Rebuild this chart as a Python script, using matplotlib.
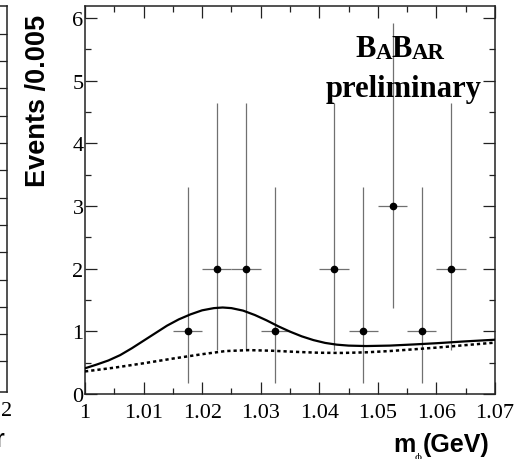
import numpy as np
import matplotlib
matplotlib.use("Agg")
import matplotlib.pyplot as plt
from matplotlib.ticker import MultipleLocator

plt.rcParams['font.family'] = 'Liberation Serif'

# binned data (bin width 0.005 GeV), empty bins not drawn
bin_centers = [1.0175, 1.0225, 1.0275, 1.0325, 1.0425, 1.0475, 1.0525, 1.0575, 1.0625]
counts = [1, 2, 2, 1, 2, 1, 3, 1, 2]
err_low = [0.827, 1.292, 1.292, 0.827, 1.292, 0.827, 1.633, 0.827, 1.292]
err_high = [2.30, 2.64, 2.64, 2.30, 2.64, 2.30, 2.92, 2.30, 2.64]
half_bin = 0.0025

# total fit (solid)
fit_x = [1.000, 1.002, 1.004, 1.006, 1.008, 1.010, 1.012, 1.014, 1.016, 1.018,
         1.020, 1.022, 1.0235, 1.025, 1.027, 1.029, 1.031, 1.033, 1.035, 1.037,
         1.039, 1.041, 1.043, 1.045, 1.048, 1.052, 1.056, 1.060, 1.065, 1.070]
fit_y = [0.41, 0.47, 0.535, 0.62, 0.73, 0.85, 0.97, 1.09, 1.19, 1.27,
         1.335, 1.37, 1.38, 1.37, 1.33, 1.26, 1.175, 1.08, 0.995, 0.92,
         0.86, 0.815, 0.787, 0.772, 0.765, 0.772, 0.79, 0.81, 0.84, 0.866]

# background component (dotted)
bkg_x = [1.000, 1.005, 1.010, 1.015, 1.020, 1.024, 1.028, 1.032, 1.036,
         1.040, 1.044, 1.048, 1.052, 1.056, 1.060, 1.065, 1.070]
bkg_y = [0.36, 0.42, 0.49, 0.565, 0.635, 0.685, 0.70, 0.69, 0.672,
         0.658, 0.655, 0.665, 0.685, 0.712, 0.74, 0.78, 0.82]

W, H = 516, 460
fig = plt.figure(figsize=(W / 100, H / 100), dpi=100)

# main panel
ax = fig.add_axes([85 / W, 1 - 395 / H, 410 / W, 388 / H])
ax.errorbar(bin_centers, counts, xerr=half_bin, yerr=[err_low, err_high],
            fmt='none', ecolor='#707070', elinewidth=0.9, capsize=0, zorder=2)
ax.plot(bin_centers, counts, 'o', color='black', markersize=4.5, zorder=4)
ax.plot(fit_x, fit_y, '-', color='black', lw=1.6, zorder=3)
ax.plot(bkg_x, bkg_y, color='black', lw=1.8, linestyle=(0, (1.3, 1.2)), zorder=3)

ax.set_xlim(1.0, 1.07)
ax.set_ylim(0, 6.19)
ax.xaxis.set_major_locator(MultipleLocator(0.01))
ax.xaxis.set_minor_locator(MultipleLocator(0.005))
ax.yaxis.set_major_locator(MultipleLocator(1))
ax.yaxis.set_minor_locator(MultipleLocator(0.5))
ax.set_xticks([1.0, 1.01, 1.02, 1.03, 1.04, 1.05, 1.06, 1.07])
ax.set_xticklabels(['1', '1.01', '1.02', '1.03', '1.04', '1.05', '1.06', '1.07'])
ax.tick_params(which='both', direction='in', top=True, right=True,
               labelsize=16, color='#222222')
ax.tick_params(which='major', length=8.5, width=0.9)
ax.tick_params(which='minor', length=4.3, width=0.9)
ax.tick_params(axis='y', pad=1)
ax.tick_params(axis='x', pad=6.5)
for s in ax.spines.values():
    s.set_linewidth(1.1)
    s.set_color('#222222')

# BaBar label in small caps
t1 = ax.text((355 - 85) / 410, (395 - 56.7) / 388, 'B', transform=ax.transAxes,
             fontsize=22, fontweight='bold', va='baseline', ha='left')
t2 = ax.annotate('A', xy=(1, 0), xycoords=t1, fontsize=16.5, fontweight='bold', va='bottom')
t3 = ax.annotate('B', xy=(1, 0), xycoords=t2, fontsize=22, fontweight='bold', va='bottom')
t4 = ax.annotate('AR', xy=(1, 0), xycoords=t3, fontsize=16.5, fontweight='bold', va='bottom')
ax.text((404 - 85) / 410, (395 - 96.7) / 388, 'preliminary', transform=ax.transAxes,
        fontsize=22, fontweight='bold', va='baseline', ha='center')

# axis labels
fig.text(38.5 / W, 1 - 101 / H, 'Events /0.005', rotation=90, ha='center', va='center',
         fontsize=19.5, fontweight='bold', family='Liberation Sans')
fig.text(393 / W, 1 - 452 / H, 'm', ha='left', va='baseline',
         fontsize=18, fontweight='bold', family='Liberation Sans')
fig.text(414.5 / W, 1 - 457.5 / H, 'ϕ', ha='left', va='center', fontsize=7.5,
         family='DejaVu Serif')
fig.text(422.5 / W, 1 - 452 / H, '(GeV)', ha='left', va='baseline',
         fontsize=18, fontweight='bold', family='Liberation Sans')

# neighbouring panel, cut by the left edge of the picture
lp_ticks = [1.12 + k for k in range(13)]
axl = fig.add_axes([-0.3, 1 - 393 / H, 0.3 + 7 / W, 386 / H])
axl.set_xlim(0, 2)
axl.set_ylim(0, 14.14)
axl.set_xticks([2])
axl.set_xticklabels(['2'])
axl.set_yticks(lp_ticks)
axl.tick_params(axis='y', left=False, right=True, labelleft=False,
                direction='in', length=5.5, width=0.9, color='#222222')
axl.tick_params(axis='x', direction='in', length=0, labelsize=16, pad=6.5)
for s in axl.spines.values():
    s.set_linewidth(1.1)
    s.set_color('#222222')
fig.text(4 / W, 1 - 447 / H, 'r', ha='right', va='baseline', fontsize=18,
         fontweight='bold', family='Liberation Sans')

fig.savefig('out.png', dpi=100)
